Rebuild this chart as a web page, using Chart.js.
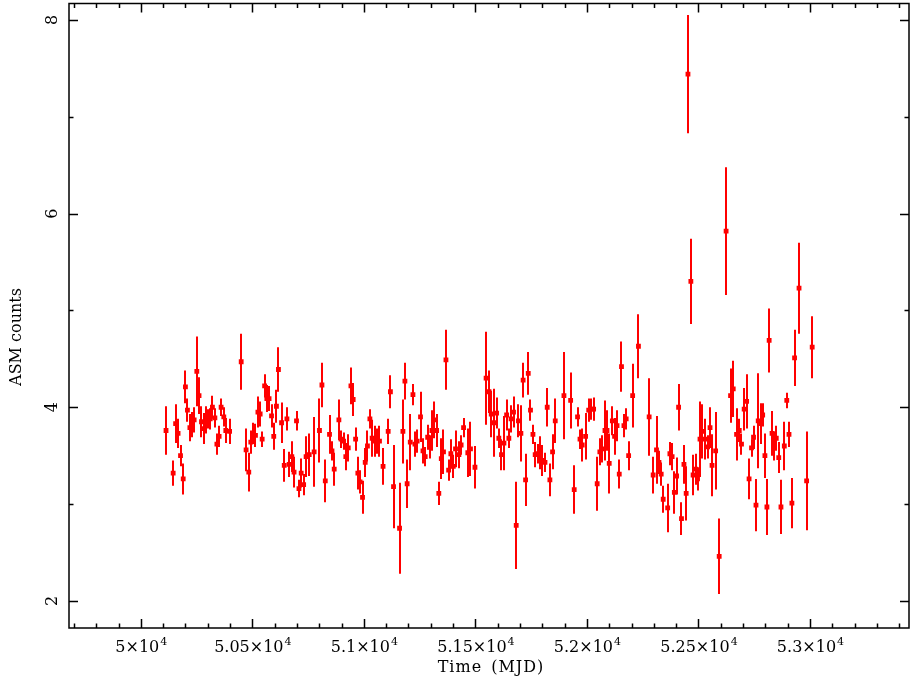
<!DOCTYPE html>
<html>
<head>
<meta charset="utf-8">
<script src="https://cdn.jsdelivr.net/npm/chart.js@4.4.4/dist/chart.umd.min.js"></script>
<style>
  html, body { margin: 0; padding: 0; background: #fff; }
  canvas { display: block; }
</style>
</head>
<body>
<canvas id="chart" width="914" height="684"></canvas>
<script>
// Light curve: time (MJD), ASM counts, 1-sigma error
const mjd = [
  50113, 50145, 50156, 50167, 50178, 50190, 50200, 50209, 50220, 50230,
  50239, 50251, 50261, 50272, 50282, 50291, 50302, 50311, 50321, 50332,
  50341, 50351, 50360, 50372, 50381, 50398, 50450, 50472, 50484, 50493,
  50502, 50514, 50525, 50535, 50544, 50555, 50565, 50575, 50586, 50596,
  50608, 50617, 50631, 50643, 50655, 50665, 50677, 50687, 50698, 50709,
  50719, 50730, 50741, 50755, 50777, 50801, 50812, 50827, 50846, 50857,
  50867, 50888, 50898, 50909, 50919, 50930, 50942, 50952, 50963, 50973,
  50983, 50994, 51006, 51016, 51027, 51037, 51048, 51058, 51070, 51086,
  51109, 51119, 51133, 51160, 51175, 51184, 51194, 51208, 51220, 51229,
  51239, 51254, 51265, 51275, 51286, 51296, 51305, 51315, 51326, 51336,
  51347, 51357, 51368, 51380, 51390, 51401, 51411, 51426, 51436, 51447,
  51466, 51478, 51498, 51548, 51561, 51571, 51582, 51595, 51605, 51617,
  51628, 51640, 51650, 51660, 51671, 51683, 51693, 51704, 51714, 51725,
  51737, 51747, 51758, 51768, 51779, 51789, 51800, 51812, 51822, 51834,
  51846, 51858, 51897, 51927, 51943, 51958, 51969, 51979, 51994, 52008,
  52019, 52030, 52046, 52058, 52069, 52081, 52090, 52100, 52114, 52124,
  52135, 52145, 52155, 52166, 52176, 52187, 52205, 52231, 52279, 52297,
  52312, 52323, 52333, 52342, 52362, 52372, 52382, 52392, 52402, 52411,
  52424, 52435, 52445, 52453, 52466, 52476, 52487, 52496, 52507, 52518,
  52529, 52541, 52552, 52561, 52577, 52593, 52624, 52644, 52656, 52671,
  52683, 52693, 52705, 52716, 52727, 52738, 52747, 52758, 52768, 52779,
  52788, 52798, 52807, 52817, 52830, 52839, 52849, 52860, 52870, 52885,
  52896, 52906, 52919, 52931, 52951, 52985, 53010
];
const counts = [
  3.76, 3.32, 3.83, 3.73, 3.50, 3.26, 4.21, 3.97, 3.79, 3.82,
  3.87, 4.37, 4.12, 3.85, 3.78, 3.87, 3.88, 3.88, 4.00, 3.89,
  3.62, 3.70, 4.00, 3.90, 3.76, 3.75, 4.47, 3.56, 3.33, 3.64,
  3.73, 3.71, 3.95, 3.93, 3.67, 4.22, 4.09, 4.09, 3.91, 3.70,
  4.01, 4.39, 3.84, 3.40, 3.88, 3.41, 3.49, 3.33, 3.86, 3.16,
  3.32, 3.20, 3.49, 3.51, 3.54, 3.76, 4.23, 3.24, 3.72, 3.55,
  3.36, 3.87, 3.67, 3.65, 3.49, 3.58, 4.22, 4.08, 3.67, 3.32,
  3.23, 3.07, 3.43, 3.60, 3.88, 3.68, 3.65, 3.65, 3.65, 3.39,
  3.75, 4.16, 3.18, 2.75, 3.75, 4.27, 3.21, 3.64, 4.13, 3.62,
  3.65, 3.90, 3.55, 3.49, 3.69, 3.59, 3.76, 3.87, 3.76, 3.11,
  3.47, 3.54, 4.49, 3.35, 3.52, 3.39, 3.57, 3.51, 3.61, 3.79,
  3.53, 3.57, 3.38, 4.30, 4.16, 3.93, 3.84, 3.94, 3.68, 3.51,
  3.63, 3.92, 3.68, 3.88, 3.95, 2.78, 3.86, 3.73, 4.28, 3.25,
  4.35, 3.97, 3.72, 3.51, 3.52, 3.53, 3.45, 3.43, 4.00, 3.25,
  3.54, 3.86, 4.12, 4.07, 3.15, 3.90, 3.67, 3.61, 3.70, 3.97,
  3.98, 3.98, 3.21, 3.54, 3.57, 3.76, 3.76, 3.42, 3.86, 3.70,
  3.81, 3.31, 4.42, 3.81, 3.88, 3.50, 4.12, 4.63, 3.90, 3.30,
  3.56, 3.43, 3.31, 3.05, 2.96, 3.52, 3.49, 3.12, 3.29, 4.00,
  2.85, 3.41, 3.11, 7.44, 5.30, 3.30, 3.36, 3.26, 3.67, 3.75,
  3.67, 3.59, 3.79, 3.40, 3.55, 2.46, 5.82, 4.12, 4.19, 3.72,
  3.76, 3.62, 3.98, 4.06, 3.26, 3.58, 3.69, 2.99, 3.86, 3.83,
  3.92, 3.50, 2.97, 4.69, 3.73, 3.60, 3.68, 3.48, 2.97, 3.60,
  4.07, 3.72, 3.01, 4.51, 5.23, 3.24, 4.62
];
const errors = [
  0.25, 0.13, 0.20, 0.15, 0.11, 0.16, 0.17, 0.12, 0.14, 0.13,
  0.13, 0.36, 0.19, 0.16, 0.16, 0.14, 0.10, 0.11, 0.12, 0.10,
  0.11, 0.11, 0.09, 0.10, 0.13, 0.13, 0.29, 0.22, 0.20, 0.12,
  0.11, 0.12, 0.16, 0.13, 0.08, 0.12, 0.14, 0.13, 0.12, 0.14,
  0.17, 0.23, 0.21, 0.17, 0.12, 0.13, 0.16, 0.16, 0.10, 0.09,
  0.15, 0.11, 0.21, 0.22, 0.36, 0.33, 0.23, 0.22, 0.20, 0.10,
  0.17, 0.21, 0.09, 0.09, 0.14, 0.14, 0.19, 0.17, 0.12, 0.17,
  0.12, 0.17, 0.15, 0.16, 0.10, 0.19, 0.16, 0.13, 0.16, 0.19,
  0.13, 0.17, 0.43, 0.47, 0.33, 0.19, 0.25, 0.29, 0.11, 0.13,
  0.12, 0.26, 0.13, 0.10, 0.13, 0.12, 0.21, 0.19, 0.17, 0.12,
  0.21, 0.23, 0.31, 0.11, 0.15, 0.12, 0.19, 0.14, 0.10, 0.10,
  0.25, 0.28, 0.22, 0.48, 0.22, 0.24, 0.35, 0.16, 0.10, 0.16,
  0.28, 0.16, 0.10, 0.14, 0.16, 0.45, 0.17, 0.29, 0.18, 0.27,
  0.22, 0.11, 0.10, 0.13, 0.10, 0.17, 0.16, 0.10, 0.20, 0.17,
  0.18, 0.23, 0.45, 0.29, 0.25, 0.10, 0.10, 0.17, 0.24, 0.12,
  0.11, 0.12, 0.28, 0.14, 0.14, 0.31, 0.21, 0.31, 0.15, 0.19,
  0.16, 0.15, 0.26, 0.12, 0.11, 0.15, 0.33, 0.33, 0.40, 0.19,
  0.35, 0.12, 0.12, 0.14, 0.25, 0.12, 0.14, 0.22, 0.19, 0.24,
  0.17, 0.20, 0.28, 0.61, 0.44, 0.21, 0.16, 0.12, 0.39, 0.28,
  0.21, 0.12, 0.21, 0.32, 0.40, 0.39, 0.66, 0.28, 0.29, 0.27,
  0.12, 0.11, 0.22, 0.28, 0.21, 0.09, 0.12, 0.27, 0.49, 0.21,
  0.12, 0.23, 0.29, 0.33, 0.23, 0.15, 0.13, 0.16, 0.28, 0.25,
  0.08, 0.13, 0.26, 0.29, 0.47, 0.51, 0.32
];

// axis ticks and labels
const xMajorTicks = [50000, 50500, 51000, 51500, 52000, 52500, 53000];
const xTickMantissa = ['5', '5.05', '5.1', '5.15', '5.2', '5.25', '5.3'];
const yMajorTicks = [2, 4, 6, 8];
const xTitle = 'Time (MJD)';
const yTitle = 'ASM counts';

const RED = '#ff0000';
const FONT = '"DejaVu Serif", "Liberation Serif", serif';

// error bars go under the square markers
const errorBars = {
  id: 'errorBars',
  beforeDatasetsDraw(chart) {
    const { ctx, scales: { x, y } } = chart;
    ctx.save();
    ctx.strokeStyle = RED;
    ctx.lineWidth = 2;
    ctx.beginPath();
    mjd.forEach((t, i) => {
      const px = Math.round(x.getPixelForValue(t));
      ctx.moveTo(px, y.getPixelForValue(counts[i] - errors[i]));
      ctx.lineTo(px, y.getPixelForValue(counts[i] + errors[i]));
    });
    ctx.stroke();
    ctx.restore();
  }
};

// pgplot style box: frame, inward ticks on all sides, rotated y labels
const frame = {
  id: 'frame',
  afterDraw(chart) {
    const { ctx, chartArea: a, scales: { x, y } } = chart;
    ctx.save();
    ctx.strokeStyle = '#000';
    ctx.lineWidth = 1.5;
    ctx.strokeRect(a.left, a.top, a.right - a.left, a.bottom - a.top);

    ctx.beginPath();
    for (let t = 49700; t <= 53400; t += 100) {
      const px = Math.round(x.getPixelForValue(t)) + 0.5;
      const len = t % 500 === 0 ? 9 : 4.5;
      ctx.moveTo(px, a.bottom); ctx.lineTo(px, a.bottom - len);
      ctx.moveTo(px, a.top); ctx.lineTo(px, a.top + len);
    }
    for (let v = 2; v <= 8; v += 1) {
      const py = Math.round(y.getPixelForValue(v)) + 0.5;
      const len = v % 2 === 0 ? 9 : 4.5;
      ctx.moveTo(a.left, py); ctx.lineTo(a.left + len, py);
      ctx.moveTo(a.right, py); ctx.lineTo(a.right - len, py);
    }
    ctx.stroke();

    ctx.fillStyle = '#000';
    // x tick labels m×10^4
    xMajorTicks.forEach((t, i) => {
      const base = xTickMantissa[i] + '\u00d710';
      ctx.font = '16px ' + FONT;
      const wb = ctx.measureText(base).width;
      ctx.font = '11px ' + FONT;
      const ws = ctx.measureText('4').width;
      const left = x.getPixelForValue(t) - (wb + ws) / 2;
      ctx.textAlign = 'left';
      ctx.textBaseline = 'alphabetic';
      ctx.font = '16px ' + FONT;
      ctx.fillText(base, left, 652);
      ctx.font = '11px ' + FONT;
      ctx.fillText('4', left + wb + 1, 645);
    });

    // y tick labels, rotated
    ctx.font = '16px ' + FONT;
    ctx.textAlign = 'center';
    ctx.textBaseline = 'middle';
    yMajorTicks.forEach(v => {
      ctx.save();
      ctx.translate(53, y.getPixelForValue(v));
      ctx.rotate(-Math.PI / 2);
      ctx.fillText(String(v), 0, 0);
      ctx.restore();
    });

    // axis titles
    ctx.textBaseline = 'alphabetic';
    ctx.save();
    ctx.font = '16px ' + FONT;
    ctx.letterSpacing = '1px';
    ctx.wordSpacing = '3px';
    ctx.fillText(xTitle, 491, 672);
    ctx.restore();
    ctx.font = '16px ' + FONT;
    ctx.save();
    ctx.translate(21, 337);
    ctx.rotate(-Math.PI / 2);
    ctx.fillText(yTitle, 0, 0);
    ctx.restore();
    ctx.restore();
  }
};

new Chart(document.getElementById('chart'), {
  type: 'scatter',
  data: {
    datasets: [{
      data: mjd.map((t, i) => ({ x: t, y: counts[i] })),
      pointStyle: 'rect',
      pointRadius: 3.4,
      pointHoverRadius: 3.4,
      backgroundColor: RED,
      borderWidth: 0
    }]
  },
  options: {
    responsive: false,
    animation: false,
    events: [],
    layout: { padding: { left: 69, top: 3.5, right: 5, bottom: 56 } },
    plugins: { legend: { display: false }, tooltip: { enabled: false } },
    scales: {
      x: { type: 'linear', min: 49678, max: 53444, display: false },
      y: { type: 'linear', min: 1.72, max: 8.17, display: false }
    }
  },
  plugins: [errorBars, frame]
});
</script>
</body>
</html>
